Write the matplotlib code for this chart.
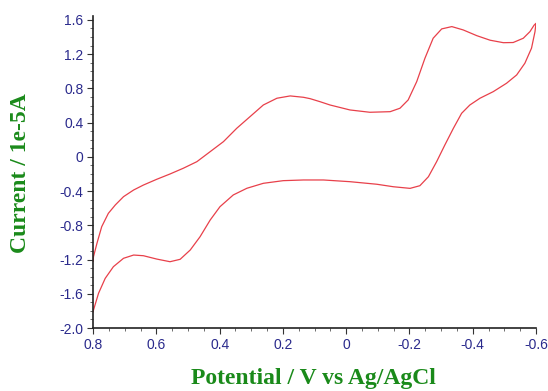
import matplotlib.pyplot as plt
from matplotlib.ticker import MultipleLocator, FuncFormatter

# forward scan (0.8 V -> -0.6 V), upper branch
fwd_potential = [0.800, 0.799, 0.788, 0.773, 0.752, 0.730, 0.704, 0.672, 0.641,
                 0.599, 0.557, 0.515, 0.472, 0.430, 0.388, 0.346, 0.304, 0.262,
                 0.219, 0.177, 0.135, 0.114, 0.083, 0.051, -0.012, -0.075,
                 -0.139, -0.170, -0.196, -0.223, -0.249, -0.275, -0.302, -0.334,
                 -0.370, -0.413, -0.455, -0.497, -0.528, -0.560, -0.581, -0.594,
                 -0.600]
fwd_current = [-1.22, -1.167, -1.01, -0.816, -0.66, -0.562, -0.465, -0.387, -0.329,
               -0.262, -0.20, -0.133, -0.056, 0.061, 0.178, 0.334, 0.47, 0.606,
               0.685, 0.712, 0.696, 0.680, 0.645, 0.606, 0.548, 0.521,
               0.528, 0.568, 0.665, 0.879, 1.152, 1.386, 1.495, 1.522,
               1.483, 1.416, 1.363, 1.334, 1.336, 1.386, 1.463, 1.538,
               1.56]

# reverse scan (-0.6 V -> 0.8 V), lower branch
rev_potential = [-0.600, -0.597, -0.586, -0.565, -0.539, -0.507, -0.465, -0.423,
                 -0.391, -0.365, -0.339, -0.312, -0.286, -0.260, -0.233, -0.202,
                 -0.149, -0.097, -0.012, 0.072, 0.135, 0.199, 0.262, 0.314,
                 0.357, 0.399, 0.430, 0.462, 0.493, 0.525, 0.557, 0.599, 0.641,
                 0.672, 0.704, 0.736, 0.762, 0.783, 0.799, 0.800]
rev_current = [1.56, 1.463, 1.27, 1.094, 0.957, 0.86, 0.762, 0.685,
               0.606, 0.509, 0.334, 0.139, -0.056, -0.232, -0.337, -0.368,
               -0.349, -0.32, -0.29, -0.27, -0.27, -0.278, -0.309, -0.367,
               -0.445, -0.582, -0.738, -0.933, -1.088, -1.197, -1.225, -1.194, -1.155,
               -1.147, -1.185, -1.283, -1.42, -1.594, -1.79, -1.81]

xticks = [0.8, 0.6, 0.4, 0.2, 0, -0.2, -0.4, -0.6]
yticks = [1.6, 1.2, 0.8, 0.4, 0, -0.4, -0.8, -1.2, -1.6, -2.0]

tick_color = "#2a2a8c"
label_color = "#1a8a1a"
line_color = "#e8404a"

fig = plt.figure(figsize=(5.48, 3.91), dpi=100)
ax = fig.add_axes([0.170, 0.161, 0.808, 0.799])

ax.plot(fwd_potential + rev_potential, fwd_current + rev_current,
        color=line_color, lw=0.9, solid_joinstyle="round")

ax.set_xlim(0.8, -0.6)
ax.set_ylim(-2.0, 1.65)
ax.set_xticks(xticks)
ax.set_yticks(yticks)
ax.xaxis.set_minor_locator(MultipleLocator(0.05))
ax.yaxis.set_minor_locator(MultipleLocator(0.1))


def fmt_tick(v, pos):
    return "0" if abs(v) < 1e-9 else f"{v:.1f}"


ax.xaxis.set_major_formatter(FuncFormatter(fmt_tick))
ax.yaxis.set_major_formatter(FuncFormatter(fmt_tick))

for side in ["top", "right"]:
    ax.spines[side].set_visible(False)
for side in ["left", "bottom"]:
    ax.spines[side].set_color("#222222")
    ax.spines[side].set_linewidth(1.2)

ax.tick_params(which="major", length=4, width=0.8, color="#333333",
               labelcolor=tick_color, labelsize=10, pad=3)
ax.tick_params(which="minor", length=2, width=0.6, color="#555555")
for lab in ax.get_xticklabels() + ax.get_yticklabels():
    lab.set_family("Liberation Sans")

# axis titles placed as figure text to match the original layout
fig.text(313 / 548, 1 - 384 / 391, "Potential / V vs Ag/AgCl",
         family="Liberation Serif", fontweight="bold", fontsize=17,
         color=label_color, ha="center", va="baseline")
fig.text(21 / 548, 1 - 173 / 391, "Current / 1e-5A",
         family="Liberation Serif", fontweight="bold", fontsize=17,
         color=label_color, ha="center", va="center", rotation=90)

fig.savefig("out.png", dpi=100)
